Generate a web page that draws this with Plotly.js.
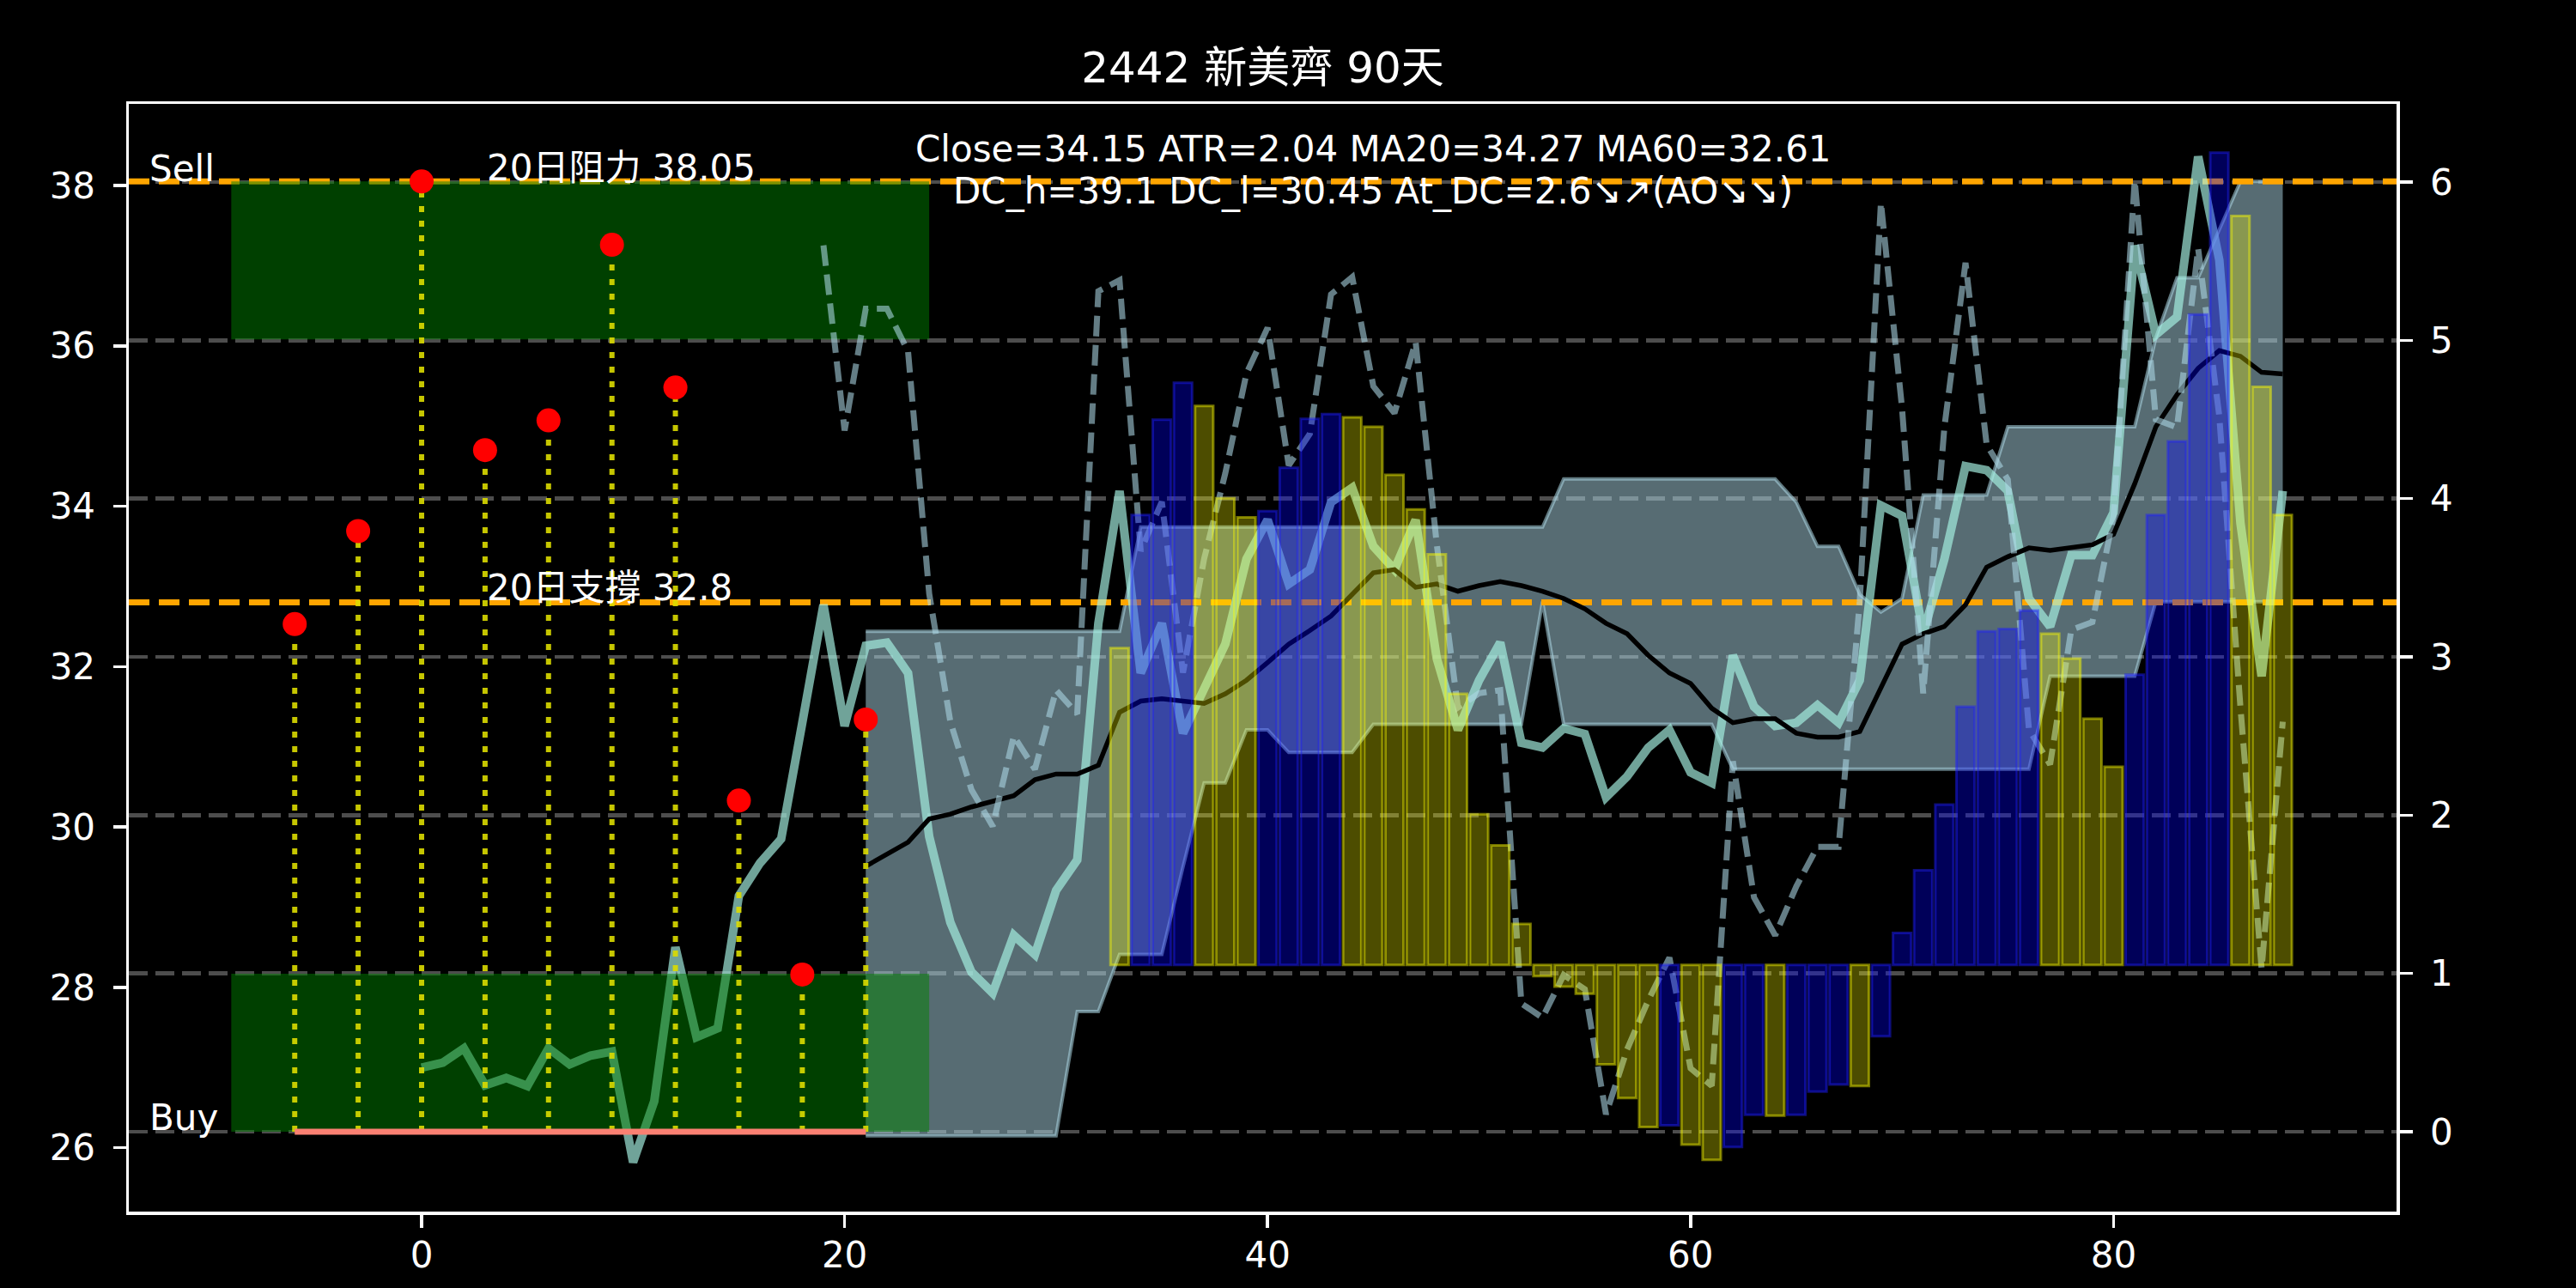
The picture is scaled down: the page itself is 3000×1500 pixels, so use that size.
<!DOCTYPE html>
<html>
<head>
<meta charset="utf-8">
<script src="https://cdn.plot.ly/plotly-3.0.1.min.js"></script>
<style>html,body{margin:0;padding:0;background:#000;}</style>
</head>
<body>
<div id="chart" style="width:3000px;height:1500px;"></div>
<script>
// ---------------- data ----------------
// closing price, day 0..88 (left axis)
const closeVals = [27.0, 27.06, 27.24, 26.78, 26.87, 26.77, 27.24, 27.04, 27.15, 27.2,
  25.82, 26.58, 28.5, 27.38, 27.49, 29.14, 29.55, 29.85, 31.3, 32.77,
  31.26, 32.26, 32.30, 31.92, 29.88, 28.81, 28.19, 27.93, 28.65, 28.41,
  29.21, 29.59, 32.54, 34.19, 31.92, 32.54, 31.17, 31.74, 32.28, 33.34,
  33.83, 33.03, 33.21, 34.05, 34.23, 33.5, 33.21, 33.83, 32.10, 31.21,
  31.83, 32.30, 31.05, 30.99, 31.23, 31.16, 30.37, 30.63, 30.99, 31.21,
  30.68, 30.55, 32.14, 31.5, 31.26, 31.3, 31.52, 31.3, 31.83, 34.01,
  33.88, 32.41, 33.34, 34.5, 34.45, 34.19, 32.85, 32.5, 33.39, 33.39,
  33.92, 37.25, 36.14, 36.36, 38.36, 37.07, 33.79, 31.88, 34.19];
const closeStart = 0;

// moving average (black), day 21..88
const maVals = [29.51, 29.66, 29.81, 30.1, 30.16, 30.25, 30.32, 30.39, 30.59, 30.66,
  30.66, 30.77, 31.43, 31.57, 31.6, 31.57, 31.54, 31.66, 31.83, 32.05,
  32.28, 32.45, 32.63, 32.9, 33.17, 33.21, 32.99, 33.03, 32.94, 33.01,
  33.06, 33.01, 32.94, 32.85, 32.72, 32.54, 32.41, 32.14, 31.92, 31.79,
  31.48, 31.3, 31.35, 31.35, 31.17, 31.12, 31.12, 31.19, 31.74, 32.28,
  32.41, 32.5, 32.77, 33.24, 33.37, 33.48, 33.45, 33.48, 33.52, 33.65,
  34.28, 34.99, 35.39, 35.72, 35.94, 35.87, 35.67, 35.65];
const maStart = 21;

// channel upper / lower, day 21..88
const dcUpper = [32.44, 32.44, 32.44, 32.44, 32.44, 32.44, 32.44, 32.44, 32.44, 32.44,
  32.44, 32.44, 32.44, 33.74, 33.74, 33.74, 33.74, 33.74, 33.74, 33.74,
  33.74, 33.74, 33.74, 33.74, 33.74, 33.74, 33.74, 33.74, 33.74, 33.74,
  33.74, 33.74, 33.74, 34.34, 34.34, 34.34, 34.34, 34.34, 34.34, 34.34,
  34.34, 34.34, 34.34, 34.34, 34.05, 33.5, 33.5, 32.9, 32.68, 32.85,
  34.14, 34.14, 34.14, 34.14, 34.99, 34.99, 34.99, 34.99, 34.99, 34.99,
  34.99, 36.1, 36.85, 36.85, 37.45, 38.05, 38.05, 38.05];
const dcLower = [26.15, 26.15, 26.15, 26.15, 26.15, 26.15, 26.15, 26.15, 26.15, 26.15,
  27.7, 27.7, 28.41, 28.41, 28.41, 29.5, 30.55, 30.55, 31.21, 31.21,
  30.93, 30.93, 30.93, 30.93, 31.28, 31.28, 31.28, 31.28, 31.28, 31.28,
  31.28, 31.28, 32.81, 31.28, 31.28, 31.28, 31.28, 31.28, 31.28, 31.28,
  31.28, 30.72, 30.72, 30.72, 30.72, 30.72, 30.72, 30.72, 30.72, 30.72,
  30.72, 30.72, 30.72, 30.72, 30.72, 30.72, 31.88, 31.88, 31.88, 31.88,
  31.88, 32.81, 32.81, 32.81, 32.81, 32.81, 32.81, 32.81];
const dcStart = 21;

// dashed indicator (right axis), day 19..88
const atrVals = [5.60, 4.43, 5.20, 5.20, 4.93, 3.40, 2.59, 2.16, 1.93, 2.50,
  2.29, 2.79, 2.64, 5.31, 5.38, 3.67, 3.98, 2.90, 3.62, 4.16,
  4.79, 5.08, 4.21, 4.41, 5.29, 5.40, 4.71, 4.54, 4.99, 3.71,
  2.68, 2.77, 2.79, 0.81, 0.72, 0.99, 0.90, 0.11, 0.52, 0.83,
  1.10, 0.40, 0.29, 2.34, 1.48, 1.24, 1.55, 1.80, 1.80, 3.35,
  5.87, 4.57, 2.77, 4.45, 5.49, 4.34, 4.12, 2.54, 2.32, 3.17,
  3.22, 3.89, 6.01, 4.5, 4.45, 5.58, 4.52, 2.68, 1.03, 2.59];
const atrStart = 19;

// histogram bars, day 33..88: top value (left axis) and colour code
const barBase = 28.28;
const barTops = [32.23, 33.89, 35.08, 35.54, 35.25, 34.1, 33.86, 33.94, 34.48, 35.09,
  35.15, 35.11, 34.99, 34.39, 33.96, 33.4, 31.66, 30.16, 29.77, 28.79,
  28.14, 28.01, 27.92, 27.04, 26.62, 26.26, 26.28, 26.04, 25.85, 26.01,
  26.41, 26.4, 26.41, 26.7, 26.79, 26.77, 27.39, 28.68, 29.46, 30.28,
  31.5, 32.44, 32.47, 32.7, 32.41, 32.1, 31.35, 30.75, 31.9, 33.89,
  34.81, 36.39, 38.41, 37.62, 35.49, 33.89];
const barKinds = ['y','b','b','b','y','y','y','b','b','b',
  'b','y','y','y','y','y','y','y','y','y',
  'y','y','y','y','y','y','b','y','y','b',
  'b','y','b','b','b','y','b','b','b','b',
  'b','b','b','b','y','y','y','y','b','b',
  'b','b','b','y','y','y'];
const barStart = 33;

// signal points
const sigX = [-6, -3, 0, 3, 6, 9, 12, 15, 18, 21];
const sigY = [32.53, 33.69, 38.05, 34.70, 35.07, 37.26, 35.48, 30.33, 28.16, 31.34];
const buyLevel = 26.2;

// levels
const resistance = 38.05;
const support = 32.8;

// zones (left axis values)
const sellZone = {x: [-9, 24], y: [36.08, 38.05]};
const buyZone = {x: [-9, 24], y: [26.2, 28.17]};

// texts
const titleText = '2442 新美齊 90天';
const infoLine1 = 'Close=34.15 ATR=2.04 MA20=34.27 MA60=32.61';
const infoLine2 = 'DC_h=39.1 DC_l=30.45 At_DC=2.6↘↗(AO↘↘)';
const resText = '20日阻力 38.05';
const supText = '20日支撐 32.8';

const xTicks = [0, 20, 40, 60, 80];
const yTicks = [26, 28, 30, 32, 34, 36, 38];
const y2Ticks = [0, 1, 2, 3, 4, 5, 6];

// ---------------- build ----------------
const idx = (start, n) => Array.from({length: n}, (_, i) => start + i);
const XR = [-13.845, 93.38];
const YR = [25.204, 39.017];
const Y2R = [-0.505, 6.494];
const FONT = 'DejaVu Sans, Noto Sans CJK TC, sans-serif';

const traces = [];

// channel fill
const dcX = idx(dcStart, dcLower.length);
traces.push({x: dcX, y: dcLower, type: 'scatter', mode: 'lines', yaxis: 'y',
  line: {color: 'rgba(173,216,230,0.55)', width: 4}, hoverinfo: 'skip', showlegend: false});
traces.push({x: dcX, y: dcUpper, type: 'scatter', mode: 'lines', yaxis: 'y', fill: 'tonexty',
  fillcolor: 'rgba(173,216,230,0.5)',
  line: {color: 'rgba(173,216,230,0.55)', width: 4}, hoverinfo: 'skip', showlegend: false});

// level lines
[resistance, support].forEach(v => traces.push({x: XR, y: [v, v], type: 'scatter', mode: 'lines', yaxis: 'y',
  line: {color: 'orange', width: 7, dash: '24px,11px'}, showlegend: false, hoverinfo: 'skip'}));

// close line
traces.push({x: idx(closeStart, closeVals.length), y: closeVals, type: 'scatter', mode: 'lines', yaxis: 'y',
  line: {color: 'rgba(165,240,225,0.68)', width: 10}, showlegend: false});

// moving average
traces.push({x: idx(maStart, maVals.length), y: maVals, type: 'scatter', mode: 'lines', yaxis: 'y',
  line: {color: '#000000', width: 5.5}, showlegend: false});

// zones
[sellZone, buyZone].forEach(z => traces.push({
  x: [z.x[0], z.x[1], z.x[1], z.x[0], z.x[0]], y: [z.y[0], z.y[0], z.y[1], z.y[1], z.y[0]],
  type: 'scatter', mode: 'lines', fill: 'toself', fillcolor: 'rgba(0,128,0,0.5)', yaxis: 'y',
  line: {width: 0, color: 'rgba(0,0,0,0)'}, showlegend: false, hoverinfo: 'skip'}));

// dotted stems
const stemX = [], stemY = [];
sigX.forEach((x, i) => { stemX.push(x, x, null); stemY.push(buyLevel, sigY[i], null); });
traces.push({x: stemX, y: stemY, type: 'scatter', mode: 'lines', yaxis: 'y',
  line: {color: 'rgba(220,220,0,0.9)', width: 6, dash: '7px,10px'}, showlegend: false, hoverinfo: 'skip'});

// buy level line
traces.push({x: [sigX[0], sigX[sigX.length - 1]], y: [buyLevel, buyLevel], type: 'scatter', mode: 'lines', yaxis: 'y',
  line: {color: 'salmon', width: 7}, showlegend: false});

// signal dots
traces.push({x: sigX, y: sigY, type: 'scatter', mode: 'markers', yaxis: 'y',
  marker: {color: 'red', size: 28, line: {width: 0}}, showlegend: false});

// dashed indicator on right axis
traces.push({x: idx(atrStart, atrVals.length), y: atrVals, type: 'scatter', mode: 'lines', yaxis: 'y2',
  line: {color: 'rgba(173,216,230,0.58)', width: 7, dash: '24px,10px'}, showlegend: false});

// bars
const fillCol = {b: 'rgba(0,0,255,0.35)', y: 'rgba(255,255,0,0.3)'};
const edgeCol = {b: 'rgba(30,30,255,0.45)', y: 'rgba(255,255,0,0.45)'};
traces.push({x: idx(barStart, barTops.length), y: barTops.map(t => t - barBase), base: barBase,
  type: 'bar', yaxis: 'y3', width: 0.86,
  marker: {color: barKinds.map(k => fillCol[k]), line: {color: barKinds.map(k => edgeCol[k]), width: 3}},
  showlegend: false});

const axisCommon = {
  showline: true, linecolor: '#ffffff', linewidth: 3.5, ticks: 'outside', ticklen: 15, tickwidth: 3.5,
  tickcolor: '#ffffff', zeroline: false, showgrid: false,
  tickfont: {family: FONT, size: 42, color: '#ffffff'}
};

const layout = {
  width: 3000, height: 1500,
  margin: {l: 150, r: 209, t: 121, b: 89, pad: 0},
  paper_bgcolor: '#000000', plot_bgcolor: '#000000',
  font: {family: FONT, color: '#ffffff'},
  showlegend: false,
  bargap: 0,
  title: {text: titleText, x: 0.5, xref: 'paper', xanchor: 'center', y: 0.948, yref: 'container', yanchor: 'middle',
    font: {family: FONT, size: 50, color: '#ffffff'}},
  xaxis: Object.assign({}, axisCommon, {range: XR, tickvals: xTicks, mirror: true, ticklabelstandoff: -4}),
  yaxis: Object.assign({}, axisCommon, {range: YR, tickvals: yTicks, side: 'left', ticklabelstandoff: 12}),
  yaxis2: Object.assign({}, axisCommon, {range: Y2R, tickvals: y2Ticks, side: 'right', overlaying: 'y',
    showgrid: true, gridcolor: 'rgba(255,255,255,0.3)', gridwidth: 4.5, griddash: '22px,9px', ticklabelstandoff: 12}),
  yaxis3: {range: YR, overlaying: 'y', visible: false, showgrid: false, zeroline: false},
  annotations: [
    {text: 'Sell', x: -12.95, y: 38.206, xref: 'x', yref: 'y', xanchor: 'left', yanchor: 'middle', showarrow: false,
      font: {family: FONT, size: 42, color: '#ffffff'}},
    {text: 'Buy', x: -12.95, y: 26.377, xref: 'x', yref: 'y', xanchor: 'left', yanchor: 'middle', showarrow: false,
      font: {family: FONT, size: 42, color: '#ffffff'}},
    {text: resText, x: 3, y: 38.216, xref: 'x', yref: 'y', xanchor: 'left', yanchor: 'middle', showarrow: false,
      font: {family: FONT, size: 42, color: '#ffffff'}},
    {text: supText, x: 3, y: 32.98, xref: 'x', yref: 'y', xanchor: 'left', yanchor: 'middle', showarrow: false,
      font: {family: FONT, size: 42, color: '#ffffff'}},
    {text: infoLine1, x: 45, y: 0.9593, xref: 'x', yref: 'paper', xanchor: 'center', yanchor: 'middle', showarrow: false,
      font: {family: FONT, size: 42, color: '#ffffff'}},
    {text: infoLine2, x: 45, y: 0.9217, xref: 'x', yref: 'paper', xanchor: 'center', yanchor: 'middle', showarrow: false,
      font: {family: FONT, size: 42, color: '#ffffff'}}
  ]
};

Plotly.newPlot('chart', traces, layout, {staticPlot: true, displayModeBar: false});
</script>
</body>
</html>
